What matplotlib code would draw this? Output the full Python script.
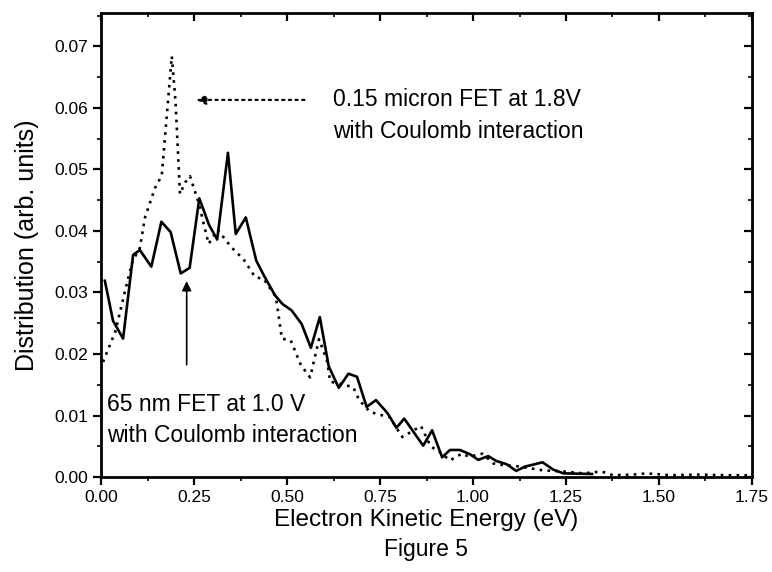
import numpy as np
import matplotlib
matplotlib.use("Agg")
import matplotlib.pyplot as plt
from matplotlib.ticker import MultipleLocator, FormatStrFormatter

plt.rcParams['font.family'] = ['Liberation Sans', 'DejaVu Sans']

# 65 nm FET at 1.0 V (solid)
x_65 = [0.010, 0.032, 0.059, 0.086, 0.104, 0.135, 0.162, 0.187, 0.214, 0.238,
        0.264, 0.290, 0.312, 0.341, 0.362, 0.389, 0.417, 0.440, 0.468, 0.488,
        0.512, 0.539, 0.564, 0.588, 0.612, 0.639, 0.665, 0.688, 0.714, 0.739,
        0.770, 0.794, 0.815, 0.866, 0.890, 0.917, 0.938, 0.965, 0.992, 1.014,
        1.041, 1.063, 1.090, 1.116, 1.140, 1.167, 1.187, 1.216, 1.243, 1.320]
y_65 = [0.0319, 0.0254, 0.0225, 0.0361, 0.0369, 0.0342, 0.0415, 0.0398, 0.0331, 0.0340,
        0.0453, 0.0410, 0.0386, 0.0527, 0.0395, 0.0422, 0.0352, 0.0325, 0.0295, 0.0281,
        0.0271, 0.0249, 0.0210, 0.0260, 0.0180, 0.0145, 0.0168, 0.0163, 0.0114, 0.0125,
        0.0104, 0.0080, 0.0095, 0.0051, 0.0076, 0.0032, 0.0044, 0.0044, 0.0037, 0.0028,
        0.0034, 0.0026, 0.0021, 0.0010, 0.0017, 0.0021, 0.0024, 0.0012, 0.0006, 0.0005]

# 0.15 micron FET at 1.8 V (dotted)
x_015 = [0.005, 0.038, 0.069, 0.085, 0.104, 0.118, 0.145, 0.163, 0.190, 0.200,
         0.212, 0.226, 0.239, 0.262, 0.289, 0.313, 0.351, 0.383, 0.414, 0.437,
         0.470, 0.486, 0.510, 0.537, 0.562, 0.586, 0.607, 0.616, 0.640, 0.678,
         0.694, 0.723, 0.750, 0.775, 0.810, 0.860, 0.886, 0.912, 0.938, 0.970,
         0.990, 1.025, 1.055, 1.086, 1.115, 1.187, 1.243, 1.296, 1.346, 1.376,
         1.430, 1.467, 1.530, 1.610, 1.680, 1.750]
y_015 = [0.0187, 0.0236, 0.0314, 0.0352, 0.0372, 0.0422, 0.0470, 0.0490, 0.0684, 0.0611,
         0.0460, 0.0479, 0.0489, 0.0446, 0.0379, 0.0402, 0.0373, 0.0354, 0.0325, 0.0322,
         0.0293, 0.0225, 0.0222, 0.0182, 0.0162, 0.0224, 0.0190, 0.0155, 0.0152, 0.0146,
         0.0125, 0.0106, 0.0101, 0.0098, 0.0065, 0.0083, 0.0050, 0.0040, 0.0027, 0.0038,
         0.0033, 0.0038, 0.0022, 0.0019, 0.0018, 0.0011, 0.0009, 0.0006, 0.0009, 0.0003,
         0.0004, 0.0006, 0.0003, 0.0004, 0.0003, 0.0003]

fig = plt.figure(figsize=(7.72, 5.72), dpi=100)
ax = fig.add_axes([0.131, 0.166, 0.843, 0.811])

ax.plot(x_015, y_015, color='black', linestyle=(0, (1, 2)), linewidth=1.9)
ax.plot(x_65, y_65, color='black', linestyle='-', linewidth=1.9)

ax.set_xlim(0, 1.75)
ax.set_ylim(0, 0.0754)
ax.xaxis.set_major_locator(MultipleLocator(0.25))
ax.xaxis.set_minor_locator(MultipleLocator(0.125))
ax.yaxis.set_major_locator(MultipleLocator(0.01))
ax.yaxis.set_minor_locator(MultipleLocator(0.005))
ax.xaxis.set_major_formatter(FormatStrFormatter('%.2f'))
ax.yaxis.set_major_formatter(FormatStrFormatter('%.2f'))
ax.tick_params(which='major', direction='out', length=6, width=1.6, labelsize=12.5)
ax.tick_params(which='minor', direction='out', length=3, width=1.2)
for s in ax.spines.values():
    s.set_linewidth(2)

# mirrored ticks on top and right pointing inward
top = ax.secondary_xaxis('top')
top.xaxis.set_major_locator(MultipleLocator(0.25))
top.xaxis.set_minor_locator(MultipleLocator(0.125))
top.tick_params(which='major', direction='in', length=6, width=1.6, labeltop=False)
top.tick_params(which='minor', direction='in', length=3, width=1.2)
right = ax.secondary_yaxis('right')
right.yaxis.set_major_locator(MultipleLocator(0.01))
right.yaxis.set_minor_locator(MultipleLocator(0.005))
right.tick_params(which='major', direction='in', length=6, width=1.6, labelright=False)
right.tick_params(which='minor', direction='in', length=3, width=1.2)

ax.set_xlabel('Electron Kinetic Energy (eV)', fontsize=17.5, labelpad=3)
ax.set_ylabel('Distribution (arb. units)', fontsize=18, labelpad=11)

# annotations
ax.annotate('', xy=(0.248, 0.0613), xytext=(0.554, 0.0613),
            arrowprops=dict(arrowstyle='-|>', linestyle=(0, (1, 2)), lw=1.6,
                            color='black', mutation_scale=14))
ax.text(0.624, 0.0613, '0.15 micron FET at 1.8V', fontsize=16.5, va='center', ha='left')
ax.text(0.624, 0.0562, 'with Coulomb interaction', fontsize=16.5, va='center', ha='left')

ax.annotate('', xy=(0.23, 0.0323), xytext=(0.23, 0.0178),
            arrowprops=dict(arrowstyle='-|>', lw=1.2, color='black', mutation_scale=14))
ax.text(0.016, 0.0118, '65 nm FET at 1.0 V', fontsize=16.5, va='center', ha='left')
ax.text(0.016, 0.0068, 'with Coulomb interaction', fontsize=16.5, va='center', ha='left')

fig.text(0.552, 0.04, 'Figure 5', fontsize=16.5, ha='center', va='center')

fig.savefig('out.png', dpi=100)
